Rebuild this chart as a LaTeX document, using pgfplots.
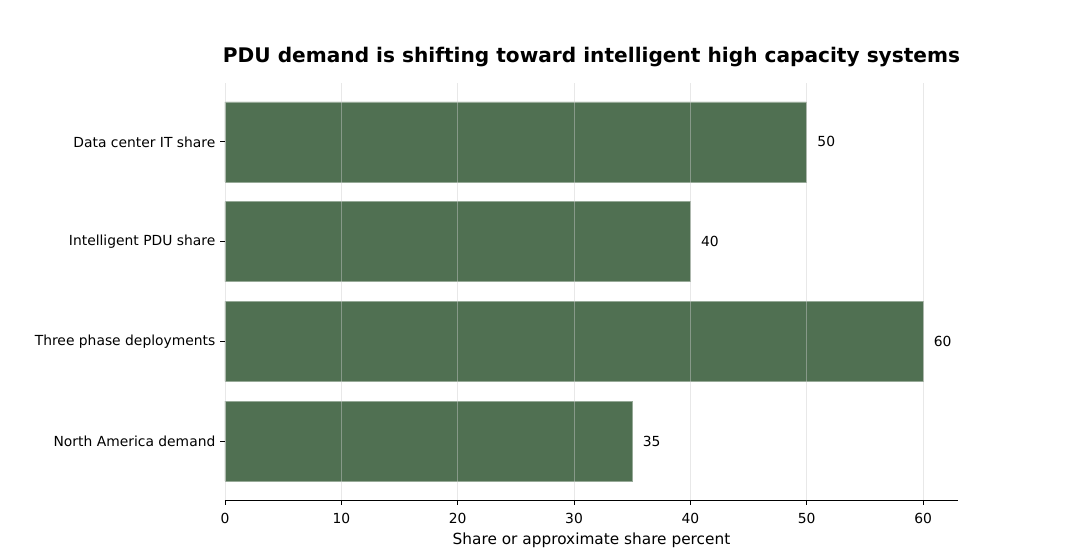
\documentclass[border=0pt]{standalone}
\usepackage{pgfplots}
\pgfplotsset{compat=1.18}
\usepackage{fontspec}
\setmainfont{DejaVu Sans}
\definecolor{barc}{RGB}{80,112,82}
\begin{document}
\begin{tikzpicture}[x=1pt,y=1pt]
\begin{axis}[
  at={(0,0)}, anchor=south west,
  scale only axis, width=549.75pt, height=312.75pt,
  xbar, bar width=0.8,
  xmin=0, xmax=63, ymin=-0.59, ymax=3.59,
  axis x line*=bottom, axis y line*=left,
  y axis line style={draw=none},
  x axis line style={line width=0.65pt, -},
  xtick={0,10,20,30,40,50,60},
  ytick={0,1,2,3},
  yticklabels={North America demand,Three phase deployments,Intelligent PDU share,Data center IT share},
  tick align=outside, tick pos=left,
  major tick length=3.7pt,
  tick style={black, line width=0.6pt},
  xmajorgrids, grid style={gray!40, opacity=0.45, line width=0.6pt},
  axis on top,
  ticklabel style={font=\fontsize{10.4}{12}\selectfont},
  xticklabel style={yshift=-3pt},
  /pgf/number format/assume math mode=true,
  xlabel={Share or approximate share percent},
  xlabel style={font=\fontsize{11.5}{13}\selectfont, yshift=0pt},
  title={\bfseries PDU demand is shifting toward intelligent high capacity systems},
  title style={font=\fontsize{15.1}{17}\selectfont, yshift=2.5pt},
  nodes near coords,
  nodes near coords style={font=\fontsize{10.4}{12}\selectfont, anchor=west, xshift=4.5pt},
]
\addplot[fill=barc, draw=barc!60!white, line width=0.4pt] coordinates {(35,0) (60,1) (40,2) (50,3)};
\end{axis}
\useasboundingbox (-168.75pt,-43.5pt) rectangle (642pt,375pt);
\end{tikzpicture}
\end{document}
